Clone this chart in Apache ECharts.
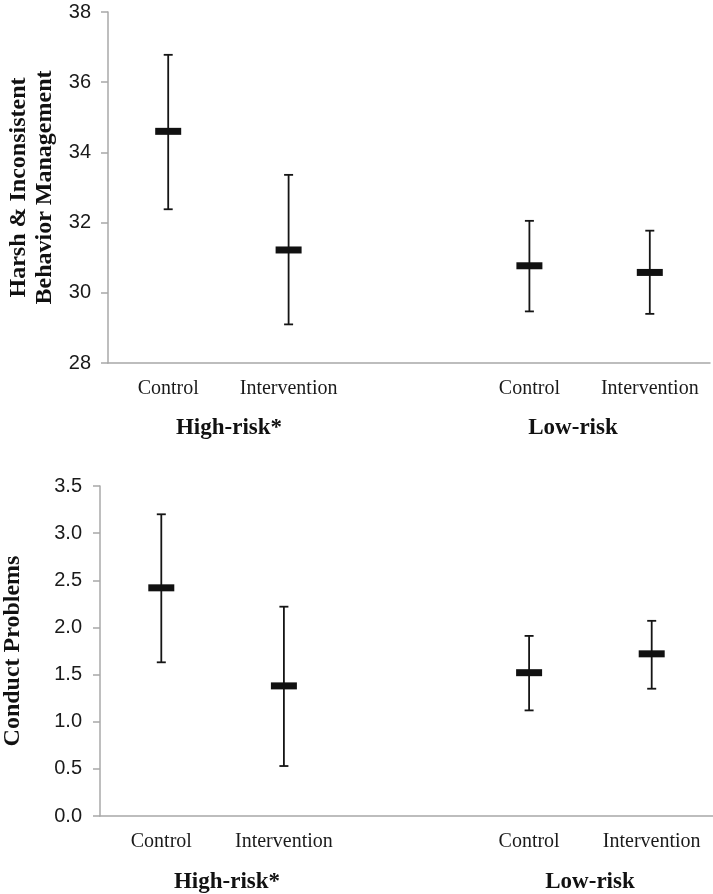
<!DOCTYPE html>
<html>
<head>
<meta charset="utf-8">
<script src="https://cdn.jsdelivr.net/npm/echarts@6/dist/echarts.min.js"></script>
<style>
html,body{margin:0;padding:0;background:#fff;}
#chart{width:713px;height:894px;}
</style>
</head>
<body>
<div id="chart"></div>
<script>
// Categories (blank spacer between the risk groups)
var categories = ['Control', 'Intervention', '', 'Control', 'Intervention'];
var groupLabels = ['High-risk*', 'Low-risk'];

// Panel 1: Harsh & Inconsistent Behavior Management
var harshMean = [34.6, 31.22, null, 30.77, 30.58];
var harshLow  = [32.38, 29.1, null, 29.47, 29.4];
var harshHigh = [36.78, 33.36, null, 32.05, 31.77];
var harshTicks = { min: 28, max: 38, interval: 2 };

// Panel 2: Conduct Problems
var conductMean = [2.42, 1.38, null, 1.52, 1.72];
var conductLow  = [1.63, 0.53, null, 1.12, 1.35];
var conductHigh = [3.2, 2.22, null, 1.91, 2.07];
var conductTicks = { min: 0, max: 3.5, interval: 0.5 };

function buildData(mean, low, high) {
  var out = [];
  for (var i = 0; i < categories.length; i++) {
    if (mean[i] == null) continue;
    out.push([i, low[i], mean[i], high[i]]);
  }
  return out;
}

function renderItem(params, api) {
  var x = api.value(0);
  var pLow = api.coord([x, api.value(1)]);
  var pMean = api.coord([x, api.value(2)]);
  var pHigh = api.coord([x, api.value(3)]);
  var cap = 4.5;
  var lineStyle = { stroke: '#151515', lineWidth: 1.8 };
  return {
    type: 'group',
    children: [
      { type: 'line', shape: { x1: pLow[0], y1: pLow[1], x2: pHigh[0], y2: pHigh[1] }, style: lineStyle },
      { type: 'line', shape: { x1: pLow[0] - cap, y1: pLow[1], x2: pLow[0] + cap, y2: pLow[1] }, style: lineStyle },
      { type: 'line', shape: { x1: pHigh[0] - cap, y1: pHigh[1], x2: pHigh[0] + cap, y2: pHigh[1] }, style: lineStyle },
      { type: 'rect', shape: { x: pMean[0] - 13, y: pMean[1] - 3.5, width: 26, height: 7 }, style: { fill: '#111' } }
    ]
  };
}

var serifFont = '"Liberation Serif", "Times New Roman", serif';
var sansFont = '"Liberation Sans", Arial, sans-serif';
var axisGray = '#a8a8a8';

function xAxisCfg(gridIndex) {
  return {
    type: 'category', gridIndex: gridIndex, data: categories,
    axisLine: { lineStyle: { color: axisGray, width: 1.5 } },
    axisTick: { show: false },
    axisLabel: { fontFamily: serifFont, fontSize: 20, color: '#1a1a1a', margin: 16, interval: 0 }
  };
}
function yAxisCfg(gridIndex, t, name, nameGap, labelMargin) {
  return {
    type: 'value', gridIndex: gridIndex, min: t.min, max: t.max, interval: t.interval,
    name: name, nameLocation: 'middle', nameRotate: 90, nameGap: nameGap,
    nameTextStyle: { fontFamily: serifFont, fontWeight: 'bold', fontSize: 24, color: '#111', lineHeight: 26 },
    axisLine: { show: true, lineStyle: { color: axisGray, width: 1.5 } },
    axisTick: { show: true, length: 7, lineStyle: { color: axisGray, width: 1.5 } },
    splitLine: { show: false },
    axisLabel: {
      fontFamily: sansFont, fontSize: 20, color: '#1a1a1a', margin: labelMargin,
      formatter: function (v) { return t.interval < 1 ? v.toFixed(1) : String(v); }
    }
  };
}

var chart = echarts.init(document.getElementById('chart'));
chart.setOption({
  backgroundColor: '#fff',
  animation: false,
  grid: [
    { left: 108, top: 12, right: 3, height: 351, containLabel: false, outerBoundsMode: 'none' },
    { left: 100, top: 486, right: 0, height: 330, containLabel: false, outerBoundsMode: 'none' }
  ],
  xAxis: [xAxisCfg(0), xAxisCfg(1)],
  yAxis: [
    yAxisCfg(0, harshTicks, 'Harsh & Inconsistent\nBehavior Management', 50, 17),
    yAxisCfg(1, conductTicks, 'Conduct Problems', 74, 18)
  ],
  series: [
    { type: 'custom', xAxisIndex: 0, yAxisIndex: 0, renderItem: renderItem,
      encode: { x: 0, y: [1, 2, 3] }, data: buildData(harshMean, harshLow, harshHigh) },
    { type: 'custom', xAxisIndex: 1, yAxisIndex: 1, renderItem: renderItem,
      encode: { x: 0, y: [1, 2, 3] }, data: buildData(conductMean, conductLow, conductHigh) }
  ],
  graphic: [
    { type: 'text', x: 229, y: 428, style: { text: groupLabels[0], font: 'bold 23px ' + serifFont, fill: '#111', align: 'center', verticalAlign: 'middle' } },
    { type: 'text', x: 573, y: 428, style: { text: groupLabels[1], font: 'bold 23px ' + serifFont, fill: '#111', align: 'center', verticalAlign: 'middle' } },
    { type: 'text', x: 227, y: 882, style: { text: groupLabels[0], font: 'bold 23px ' + serifFont, fill: '#111', align: 'center', verticalAlign: 'middle' } },
    { type: 'text', x: 590, y: 882, style: { text: groupLabels[1], font: 'bold 23px ' + serifFont, fill: '#111', align: 'center', verticalAlign: 'middle' } }
  ]
});
</script>
</body>
</html>
